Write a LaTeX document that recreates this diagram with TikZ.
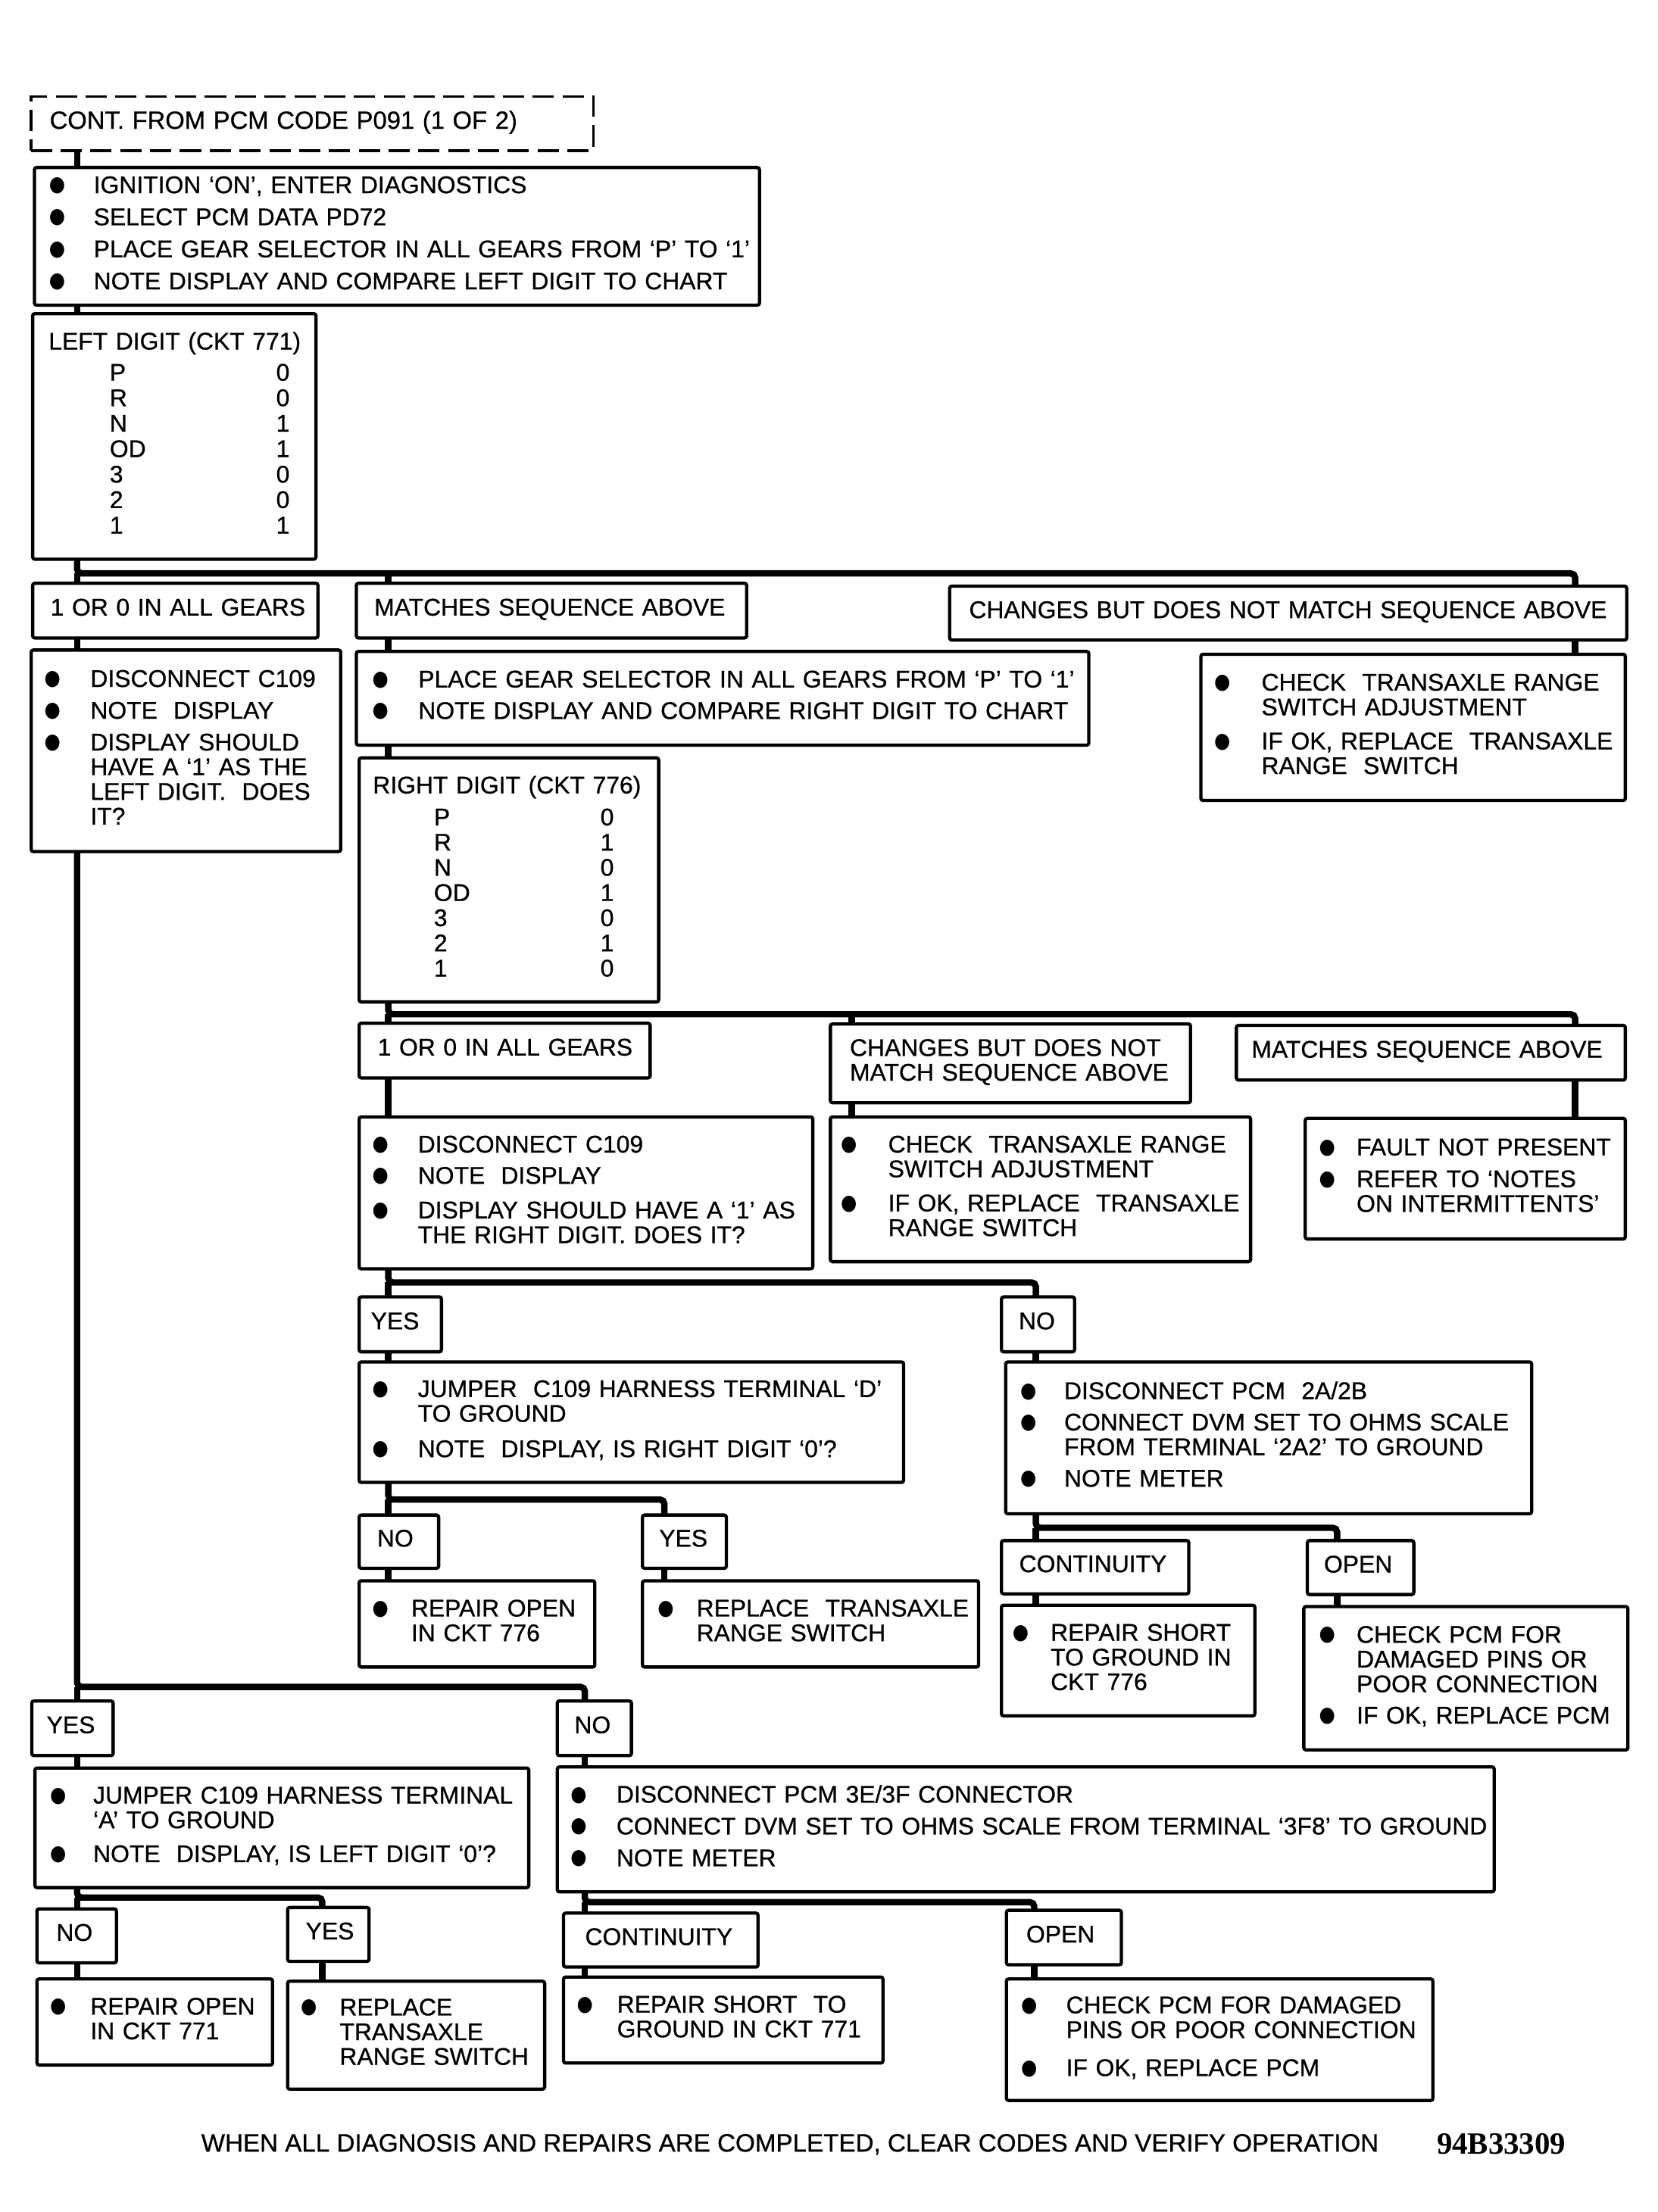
\documentclass[tikz,border=0pt]{standalone}
\usepackage{fontspec}
\usepackage{graphicx}
\setmainfont{Liberation Sans}[FakeBold=0.7]
\newfontfamily\dvs{DejaVu Sans}
\newfontfamily\serifb{Liberation Serif}
\newlength\bcl \newlength\txl
\newcommand\setb[2]{\setlength\bcl{#1pt}\setlength\txl{#2pt}}
\newcommand\bul{\raisebox{1.3pt}{\scalebox{1}[1.15]{\dvs\fontsize{13}{13}\selectfont ●}}}
\newcommand\Bu[1]{\hspace*{\bcl}\makebox[0pt]{\bul}\hspace*{\dimexpr\txl-\bcl\relax}#1}
\newcommand\Co[1]{\hspace*{\txl}#1}
\newcommand\bodyfont{\fontsize{17}{17.4}\selectfont}
\tikzset{
  box/.style={draw, line width=2.3pt, fill=white, rounded corners=1.5pt, anchor=north west,
    inner sep=0pt, outer sep=0pt, align=left, font=\bodyfont},
  dbox/.style={box, dash pattern=on 15pt off 6pt, line width=2pt, rounded corners=0pt},
  conn/.style={line width=4.5pt, rounded corners=3pt},
}
\newcommand\mkbox[7][box]{\pgfmathsetmacro\bxw{#5-#3}\pgfmathsetmacro\bxh{#6-#4}%
  \node[#1, text width=\bxw pt, minimum height=\bxh pt] (#2) at (#3,#4) {#7};}
\newcommand\lb[7]{\mkbox{#1}{#2}{#3}{#4}{#5}{\begin{tabular}{@{}l@{}}\hspace*{#6pt}#7\end{tabular}}}
\newcommand\gr[2]{\makebox[122pt][l]{#1}\makebox[0pt]{#2}}
\begin{document}
\begin{tikzpicture}[x=1pt, y=-1pt]
\fill[white] (0,0) rectangle (1168,1558.6);
\useasboundingbox (0,0) rectangle (1168,1558.6);
% trunk x positions and bus y levels
\coordinate (xA) at (54.3,0);   \coordinate (xM) at (273.5,0);
\coordinate (xF) at (1109.6,0); \coordinate (xI) at (600,0);
\coordinate (xN1) at (729.7,0); \coordinate (xO1) at (942,0);
\coordinate (xY2) at (468,0);   \coordinate (xN3) at (412,0);
\coordinate (xY4) at (227,0);   \coordinate (xO2) at (728.6,0);
\coordinate (y1) at (0,404);    \coordinate (y2) at (0,714.6);
\coordinate (y3) at (0,903.6);  \coordinate (y4) at (0,1056.6);
\coordinate (y5) at (0,1076.5); \coordinate (y6) at (0,1188.6);
\coordinate (y7) at (0,1337);   \coordinate (y8) at (0,1340.3);

% ---------- boxes ----------
\mkbox[dbox]{dash}{21.7}{68}{418}{106}{\begin{tabular}{@{}l@{}}\hspace*{13.3pt}\fontsize{17.5}{17.4}\selectfont CONT. FROM PCM CODE P091 (1 OF 2)\end{tabular}}

\mkbox{A}{24.3}{118}{535}{215}{\setb{16}{41.7}\begin{tabular}{@{}l@{}}
\Bu{IGNITION ‘ON’, ENTER DIAGNOSTICS}\\[5.2pt]
\Bu{SELECT PCM DATA PD72}\\[5.2pt]
\Bu{PLACE GEAR SELECTOR IN ALL GEARS FROM ‘P’ TO ‘1’}\\[5.2pt]
\Bu{NOTE DISPLAY AND COMPARE LEFT DIGIT TO CHART}\end{tabular}}

\mkbox{B}{23}{221}{222.6}{394}{\fontsize{17}{17.95}\selectfont\begin{tabular}{@{}l@{}}
\hspace*{11.3pt}LEFT DIGIT (CKT 771)\\[4pt]
\hspace*{54.3pt}\gr{P}{0}\\ \hspace*{54.3pt}\gr{R}{0}\\ \hspace*{54.3pt}\gr{N}{1}\\
\hspace*{54.3pt}\gr{OD}{1}\\ \hspace*{54.3pt}\gr{3}{0}\\ \hspace*{54.3pt}\gr{2}{0}\\
\hspace*{54.3pt}\gr{1}{1}\end{tabular}}

\lb{OR1}{23}{411}{224}{449.5}{12.6}{1 OR 0 IN ALL GEARS}
\lb{MT1}{251}{411}{526}{449.5}{12.7}{MATCHES SEQUENCE ABOVE}
\lb{F}{669}{413}{1146}{451}{13.7}{CHANGES BUT DOES NOT MATCH SEQUENCE ABOVE}

\mkbox{C}{22}{458}{240}{600}{\setb{15}{41.7}\begin{tabular}{@{}l@{}}
\Bu{DISCONNECT C109}\\[5pt]
\Bu{NOTE~ DISPLAY}\\[5pt]
\Bu{DISPLAY SHOULD}\\ \Co{HAVE A ‘1’ AS THE}\\ \Co{LEFT DIGIT.~ DOES}\\ \Co{IT?}\end{tabular}}

\mkbox{D}{251}{459}{767}{525}{\setb{17}{43.7}\begin{tabular}{@{}l@{}}
\Bu{PLACE GEAR SELECTOR IN ALL GEARS FROM ‘P’ TO ‘1’}\\[4.8pt]
\Bu{NOTE DISPLAY AND COMPARE RIGHT DIGIT TO CHART}\end{tabular}}

\mkbox{G}{846}{461}{1145}{564}{\setb{15}{42.7}\begin{tabular}{@{}l@{}}
\Bu{CHECK~ TRANSAXLE RANGE}\\ \Co{SWITCH ADJUSTMENT}\\[6.6pt]
\Bu{IF OK, REPLACE~ TRANSAXLE}\\ \Co{RANGE~ SWITCH}\end{tabular}}

\mkbox{E}{253}{534}{464}{706}{\fontsize{17}{17.75}\selectfont\begin{tabular}{@{}l@{}}
\hspace*{9.7pt}RIGHT DIGIT (CKT 776)\\[4.75pt]
\hspace*{52.7pt}\gr{P}{0}\\ \hspace*{52.7pt}\gr{R}{1}\\ \hspace*{52.7pt}\gr{N}{0}\\
\hspace*{52.7pt}\gr{OD}{1}\\ \hspace*{52.7pt}\gr{3}{0}\\ \hspace*{52.7pt}\gr{2}{1}\\
\hspace*{52.7pt}\gr{1}{0}\end{tabular}}

\lb{OR2}{253}{721}{458}{759.5}{13.1}{1 OR 0 IN ALL GEARS}
\lb{I}{585}{721.5}{838.7}{777}{13.7}{CHANGES BUT DOES NOT\\\hspace*{13.7pt}MATCH SEQUENCE ABOVE}
\lb{J}{871}{722.5}{1145}{761}{10.7}{MATCHES SEQUENCE ABOVE}

\mkbox{K}{253}{787}{572.6}{894}{\setb{15}{41.4}\begin{tabular}{@{}l@{}}
\Bu{DISCONNECT C109}\\[4.6pt]
\Bu{NOTE~ DISPLAY}\\[7pt]
\Bu{DISPLAY SHOULD HAVE A ‘1’ AS}\\ \Co{THE RIGHT DIGIT. DOES IT?}\end{tabular}}

\mkbox{L}{585}{787}{881}{889}{\setb{13}{40.7}\begin{tabular}{@{}l@{}}
\Bu{CHECK~ TRANSAXLE RANGE}\\ \Co{SWITCH ADJUSTMENT}\\[6.6pt]
\Bu{IF OK, REPLACE~ TRANSAXLE}\\ \Co{RANGE SWITCH}\end{tabular}}

\mkbox{M}{919.5}{788}{1145}{873}{\setb{15.5}{36.2}\begin{tabular}{@{}l@{}}
\Bu{FAULT NOT PRESENT}\\[5pt]
\Bu{REFER TO ‘NOTES}\\ \Co{ON INTERMITTENTS’}\end{tabular}}

\lb{YES1}{253}{913.8}{311}{952.5}{8.3}{YES}
\lb{NO1}{705.5}{913.8}{757}{952.5}{12.2}{NO}

\mkbox{N}{253}{959.6}{636.6}{1044.5}{\setb{15}{41.4}\begin{tabular}{@{}l@{}}
\Bu{JUMPER~ C109 HARNESS TERMINAL ‘D’}\\ \Co{TO GROUND}\\[7.5pt]
\Bu{NOTE~ DISPLAY, IS RIGHT DIGIT ‘0’?}\end{tabular}}

\mkbox{Q}{708.5}{959.6}{1079}{1066.6}{\setb{16}{41.2}\begin{tabular}{@{}l@{}}
\Bu{DISCONNECT PCM~ 2A/2B}\\[4.7pt]
\Bu{CONNECT DVM SET TO OHMS SCALE}\\ \Co{FROM TERMINAL ‘2A2’ TO GROUND}\\[4.8pt]
\Bu{NOTE METER}\end{tabular}}

\lb{NO2}{253}{1067.5}{309}{1105}{12.7}{NO}
\lb{YES2}{452.6}{1067.5}{511.7}{1105}{11.8}{YES}
\lb{CONT1}{705.5}{1085.5}{837.5}{1123}{12.5}{CONTINUITY}
\lb{OPEN1}{921}{1085.5}{996}{1123.5}{11.7}{OPEN}

\mkbox{O}{253}{1113.8}{419}{1174.6}{\setb{15}{36.7}\begin{tabular}{@{}l@{}}
\Bu{REPAIR OPEN}\\ \Co{IN CKT 776}\end{tabular}}

\mkbox{P}{452.6}{1113.8}{689.4}{1174.6}{\setb{16.4}{38.1}\begin{tabular}{@{}l@{}}
\Bu{REPLACE~ TRANSAXLE}\\ \Co{RANGE SWITCH}\end{tabular}}

\mkbox{R}{705.5}{1131}{884}{1209}{\setb{13.5}{34.7}\begin{tabular}{@{}l@{}}
\Bu{REPAIR SHORT}\\ \Co{TO GROUND IN}\\ \Co{CKT 776}\end{tabular}}

\mkbox{S}{918.5}{1132}{1146.8}{1233}{\setb{16.5}{37.2}\begin{tabular}{@{}l@{}}
\Bu{CHECK PCM FOR}\\ \Co{DAMAGED PINS OR}\\ \Co{POOR CONNECTION}\\[4.7pt]
\Bu{IF OK, REPLACE PCM}\end{tabular}}

\lb{YES3}{22.4}{1198.5}{79.7}{1237}{10.5}{YES}
\lb{NO3}{392.6}{1198.5}{444.8}{1237}{12.1}{NO}

\mkbox{T}{24.6}{1245.8}{372.5}{1330}{\setb{16.4}{41.1}\begin{tabular}{@{}l@{}}
\Bu{JUMPER C109 HARNESS TERMINAL}\\ \Co{‘A’ TO GROUND}\\[6.5pt]
\Bu{NOTE~ DISPLAY, IS LEFT DIGIT ‘0’?}\end{tabular}}

\mkbox{U}{392.6}{1245}{1052.6}{1333}{\setb{15}{41.7}\begin{tabular}{@{}l@{}}
\Bu{DISCONNECT PCM 3E/3F CONNECTOR}\\[5pt]
\Bu{CONNECT DVM SET TO OHMS SCALE FROM TERMINAL ‘3F8’ TO GROUND}\\[5pt]
\Bu{NOTE METER}\end{tabular}}

\lb{NO4}{26}{1345}{82}{1383}{13.7}{NO}
\lb{YES4}{202.6}{1344}{260}{1382}{12.8}{YES}
\lb{CONT2}{397}{1348}{534}{1386}{15.2}{CONTINUITY}
\lb{OPEN2}{709}{1346}{790}{1384.4}{14}{OPEN}

\mkbox{V}{26}{1394.4}{192}{1455}{\setb{15}{37.7}\begin{tabular}{@{}l@{}}
\Bu{REPAIR OPEN}\\ \Co{IN CKT 771}\end{tabular}}

\mkbox{W}{202.6}{1396}{383.7}{1472}{\setb{15}{36.7}\begin{tabular}{@{}l@{}}
\Bu{REPLACE}\\ \Co{TRANSAXLE}\\ \Co{RANGE SWITCH}\end{tabular}}

\mkbox{X}{397}{1393}{622}{1453.6}{\setb{15}{37.7}\begin{tabular}{@{}l@{}}
\Bu{REPAIR SHORT~ TO}\\ \Co{GROUND IN CKT 771}\end{tabular}}

\mkbox{Y}{709}{1394.4}{1009.4}{1480}{\setb{16}{42.1}\begin{tabular}{@{}l@{}}
\Bu{CHECK PCM FOR DAMAGED}\\ \Co{PINS OR POOR CONNECTION}\\[9.4pt]
\Bu{IF OK, REPLACE PCM}\end{tabular}}

\node[anchor=base west, inner sep=0pt, font=\fontsize{17.7}{20}\selectfont] (foot) at (141.6,1516)
  {WHEN ALL DIAGNOSIS AND REPAIRS ARE COMPLETED, CLEAR CODES AND VERIFY OPERATION};
\node[anchor=base west, inner sep=0pt, font=\serifb\bfseries\fontsize{21.8}{22}\selectfont] (code) at (1012,1518)
  {94B33309};

% ---------- connectors ----------
\draw[conn] (dash.south -| xA) -- (A.north -| xA);
\draw[conn] (A.south -| xA) -- (B.north -| xA);
\draw[conn] (B.south -| xA) -- (xA |- y1) -- (xF |- y1) -- (F.north -| xF);
\draw[conn] (xA |- y1) -- (OR1.north -| xA);
\draw[conn] (xM |- y1) -- (MT1.north -| xM);
\draw[conn] (OR1.south -| xA) -- (C.north -| xA);
\draw[conn] (MT1.south -| xM) -- (D.north -| xM);
\draw[conn] (F.south -| xF) -- (G.north -| xF);
\draw[conn] (D.south -| xM) -- (E.north -| xM);

\draw[conn] (E.south -| xM) -- (xM |- y2) -- (xF |- y2) -- (J.north -| xF);
\draw[conn] (xM |- y2) -- (OR2.north -| xM);
\draw[conn] (xI |- y2) -- (I.north -| xI);
\draw[conn] (OR2.south -| xM) -- (K.north -| xM);
\draw[conn] (I.south -| xI) -- (L.north -| xI);
\draw[conn] (J.south -| xF) -- (M.north -| xF);

\draw[conn] (K.south -| xM) -- (xM |- y3) -- (xN1 |- y3) -- (NO1.north -| xN1);
\draw[conn] (xM |- y3) -- (YES1.north -| xM);
\draw[conn] (YES1.south -| xM) -- (N.north -| xM);
\draw[conn] (NO1.south -| xN1) -- (Q.north -| xN1);

\draw[conn] (N.south -| xM) -- (xM |- y4) -- (xY2 |- y4) -- (YES2.north -| xY2);
\draw[conn] (xM |- y4) -- (NO2.north -| xM);
\draw[conn] (NO2.south -| xM) -- (O.north -| xM);
\draw[conn] (YES2.south -| xY2) -- (P.north -| xY2);

\draw[conn] (Q.south -| xN1) -- (xN1 |- y5) -- (xO1 |- y5) -- (OPEN1.north -| xO1);
\draw[conn] (xN1 |- y5) -- (CONT1.north -| xN1);
\draw[conn] (CONT1.south -| xN1) -- (R.north -| xN1);
\draw[conn] (OPEN1.south -| xO1) -- (S.north -| xO1);

\draw[conn] (C.south -| xA) -- (xA |- y6) -- (xN3 |- y6) -- (NO3.north -| xN3);
\draw[conn] (xA |- y6) -- (YES3.north -| xA);
\draw[conn] (YES3.south -| xA) -- (T.north -| xA);
\draw[conn] (NO3.south -| xN3) -- (U.north -| xN3);

\draw[conn] (T.south -| xA) -- (xA |- y7) -- (xY4 |- y7) -- (YES4.north -| xY4);
\draw[conn] (xA |- y7) -- (NO4.north -| xA);
\draw[conn] (NO4.south -| xA) -- (V.north -| xA);
\draw[conn] (YES4.south -| xY4) -- (W.north -| xY4);

\draw[conn] (U.south -| xN3) -- (xN3 |- y8) -- (xO2 |- y8) -- (OPEN2.north -| xO2);
\draw[conn] (xN3 |- y8) -- (CONT2.north -| xN3);
\draw[conn] (CONT2.south -| xN3) -- (X.north -| xN3);
\draw[conn] (OPEN2.south -| xO2) -- (Y.north -| xO2);
\end{tikzpicture}
\end{document}
